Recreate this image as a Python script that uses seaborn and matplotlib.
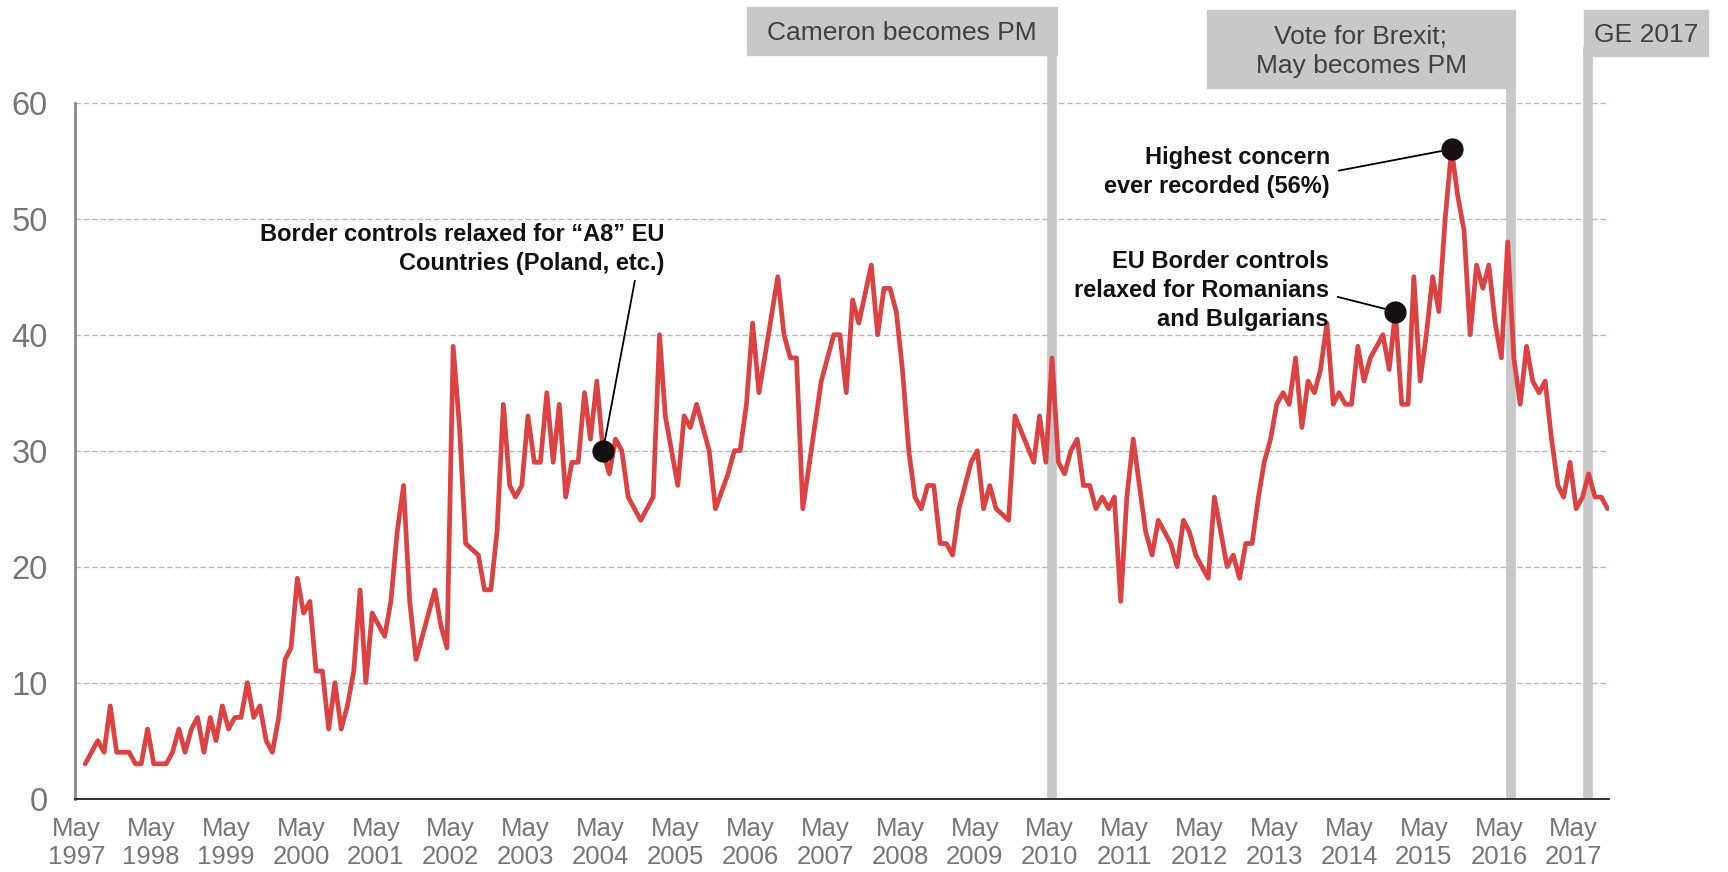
import pandas as pd
import matplotlib
matplotlib.use('Agg')
import matplotlib.pyplot as plt
import seaborn as sns
from matplotlib.patches import Rectangle

# monthly share naming immigration as an important issue, first month = May 1997
# (None = no reading that month, the line just joins the neighbours)
start_month = '1997-05-01'
concern = [
    None, 3, None, 5, 4, 8, 4, None, 4, 3, 3, 6,
    3, None, 3, 4, 6, 4, 6, 7, 4, 7, 5, 8,
    6, 7, 7, 10, 7, 8, 5, 4, 7, 12, 13, 19,
    16, 17, 11, 11, 6, 10, 6, 8, 11, 18, 10, 16,
    None, 14, 17, 23, 27, 17, 12, None, None, 18, 15, 13,
    39, 32, 22, None, 21, 18, 18, 23, 34, 27, 26, 27,
    33, 29, 29, 35, 29, 34, 26, 29, 29, 35, 31, 36,
    30, 28, 31, 30, 26, None, 24, None, 26, 40, 33, None,
    27, 33, 32, 34, None, 30, 25, None, 28, 30, 30, 34,
    41, 35, None, None, 45, 40, 38, 38, 25, None, None, 36,
    None, 40, 40, 35, 43, 41, None, 46, 40, 44, 44, 42,
    37, 30, 26, 25, 27, 27, 22, 22, 21, 25, None, 29,
    30, 25, 27, 25, None, 24, 33, None, None, 29, 33, 29,
    38, 29, 28, 30, 31, 27, 27, 25, 26, 25, 26, 17,
    26, 31, 27, 23, 21, 24, 23, 22, 20, 24, 23, 21,
    20, 19, 26, 23, 20, 21, 19, 22, 22, 26, 29, 31,
    34, 35, 34, 38, 32, 36, 35, 37, 41, 34, 35, 34,
    34, 39, 36, 38, 39, 40, 37, 42, 34, 34, 45, 36,
    40, 45, 42, 50, 56, 52, 49, 40, 46, 44, 46, 41,
    38, 48, 38, 34, 39, 36, 35, 36, 31, 27, 26, 29,
    25, 26, 28, 26, 26, 25,
]

# highlighted months (black dots)
dot_months = ['2004-05-01', '2014-12-01', '2015-09-01']

# political events (grey bars + labels)
event_dates = ['2010-05-11', '2016-06-27', '2017-07-10']
event_labels = ['Cameron becomes PM', 'Vote for Brexit;\nMay becomes PM', 'GE 2017']

tick_years = list(range(1997, 2018))

dates = pd.date_range(start_month, periods=len(concern), freq='MS') + pd.Timedelta(days=12)
df = pd.DataFrame({'date': dates, 'concern': concern}).dropna()
df['concern'] = df['concern'].astype(float)

dots = df[df['date'].dt.strftime('%Y-%m-01').isin(dot_months)]

sns.set_style('white')
plt.rcParams['font.family'] = ['Liberation Sans', 'DejaVu Sans']

W, H = 1728, 872
fig = plt.figure(figsize=(W / 100, H / 100), dpi=100)
ax = fig.add_axes([0.0434, 0.0841, 0.8877, 0.7981])

sns.lineplot(data=df, x='date', y='concern', color='#dc4242', lw=3.4, ax=ax, zorder=3)

for d in event_dates:
    ax.axvline(pd.Timestamp(d), ymin=0, ymax=1.08, color='#c8c8c8', lw=7,
               clip_on=False, zorder=2, solid_capstyle='butt')

ax.plot(dots['date'], dots['concern'], 'o', ms=15, color='#150f0f', zorder=5, clip_on=False)

ax.set_xlim(pd.Timestamp('1997-04-24'), pd.Timestamp('2017-10-20'))
ax.set_ylim(0, 60)
ax.set_xticks(pd.to_datetime([f'{y}-05-01' for y in tick_years]))
ax.set_xticklabels([f'May\n{y}' for y in tick_years])
ax.set_yticks(range(0, 61, 10))
ax.set_xlabel('')
ax.set_ylabel('')
for lbl in ax.get_xticklabels():
    lbl.set_linespacing(1.22)

ax.tick_params(axis='x', length=5, width=1.2, color='#555555', labelsize=18.5,
               labelcolor='#767676', pad=8)
ax.tick_params(axis='y', length=6.5, width=1.2, color='#444444', labelsize=23.5,
               labelcolor='#767676', pad=13)

ax.set_axisbelow(True)
ax.yaxis.grid(True, color='#b8b8b8', lw=1, linestyle=(0, (4, 2)))
ax.xaxis.grid(False)
sns.despine(ax=ax)
ax.spines['left'].set_color('#8a8a8a')
ax.spines['left'].set_linewidth(2)
ax.spines['bottom'].set_color('#222222')
ax.spines['bottom'].set_linewidth(1.3)

# annotations
ann = dict(ha='right', va='center', fontsize=17, fontweight='bold', linespacing=1.32, color='#111111')
ax.annotate('Border controls relaxed for \u201cA8\u201d EU\nCountries (Poland, etc.)',
            xy=(dots['date'].iloc[0], dots['concern'].iloc[0]),
            xytext=(pd.Timestamp('2005-03-08'), 47.4),
            arrowprops=dict(arrowstyle='-', color='black', lw=1.3, relpos=(0.93, 0),
                            shrinkA=2, shrinkB=0), **ann)
ax.annotate('EU Border controls\nrelaxed for Romanians\nand Bulgarians',
            xy=(dots['date'].iloc[1], dots['concern'].iloc[1]),
            xytext=(pd.Timestamp('2014-01-23'), 43.8),
            arrowprops=dict(arrowstyle='-', color='black', lw=1.3, relpos=(1, 0.45),
                            shrinkA=4, shrinkB=0), **ann)
ax.annotate('Highest concern\never recorded (56%)',
            xy=(dots['date'].iloc[2], dots['concern'].iloc[2]),
            xytext=(pd.Timestamp('2014-01-28'), 54.0),
            arrowprops=dict(arrowstyle='-', color='black', lw=1.3, relpos=(1, 0.5),
                            shrinkA=4, shrinkB=0), **ann)

# event label boxes above the plot (pixel boxes: x0, x1, y0, y1 from the top)
boxes = [(747, 1057, 7, 55), (1207, 1515, 10, 88), (1584, 1708, 10, 56)]
for (x0, x1, y0, y1), label in zip(boxes, event_labels):
    fig.add_artist(Rectangle((x0 / W, 1 - y1 / H), (x1 - x0) / W, (y1 - y0) / H,
                             transform=fig.transFigure, color='#c8c8c8', zorder=3))
    fig.text((x0 + x1) / 2 / W, 1 - ((y0 + y1) / 2 + 2) / H, label, ha='center', va='center',
             fontsize=19, color='#404040', linespacing=1.3, zorder=4)

fig.savefig('out.png', dpi=100)
